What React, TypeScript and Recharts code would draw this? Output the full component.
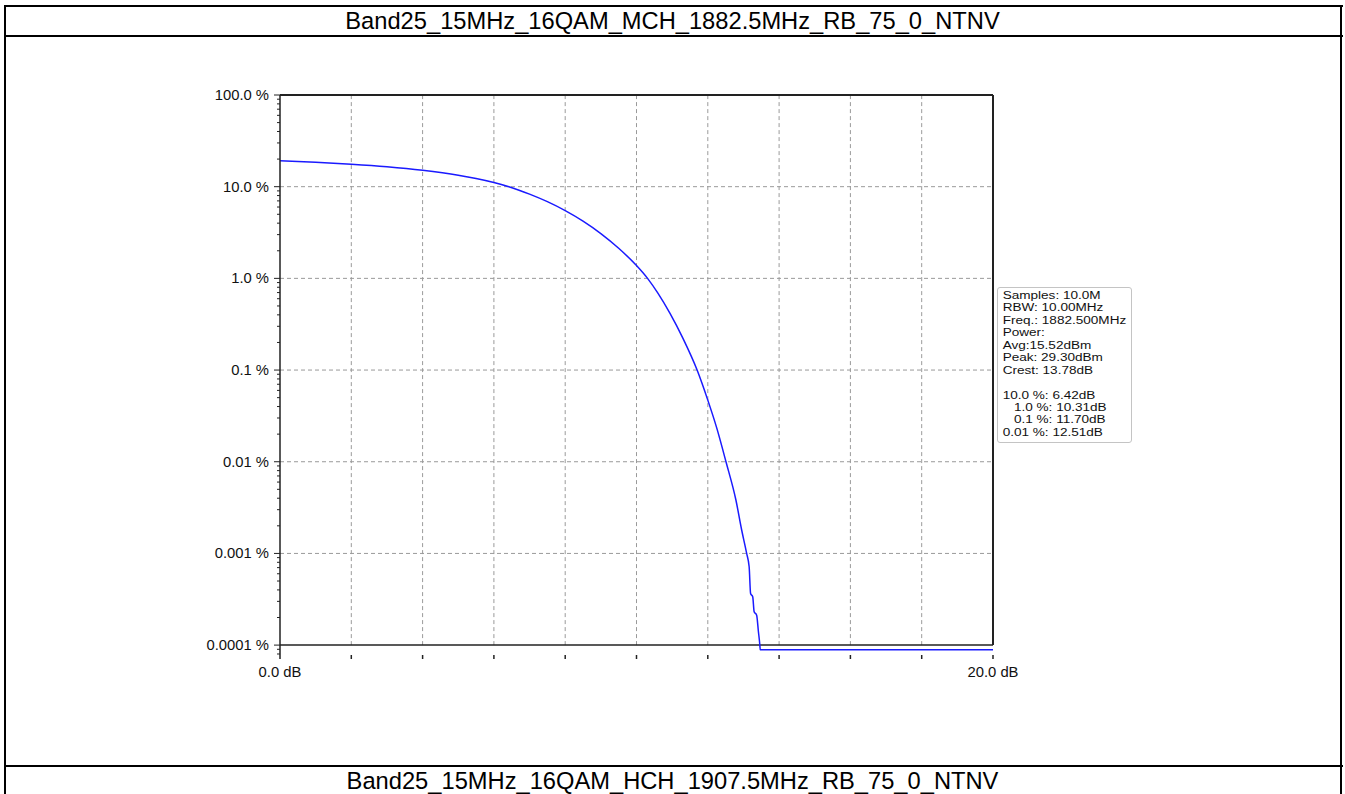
import { LineChart, Line, XAxis, YAxis, ReferenceLine } from "recharts";

// CCDF curve: power above average (dB) vs probability (%)
const dbValues = [
  0, 1, 2, 3, 4, 5, 5.5, 6, 6.42, 7, 7.5, 8, 8.5, 9, 9.5, 10, 10.31, 10.6,
  10.94, 11.3, 11.7, 12, 12.25, 12.51, 12.79, 12.95, 13.09, 13.16, 13.2,
  13.26, 13.3, 13.37, 13.42, 13.46, 13.47, 20,
];
const ccdfPercent = [
  19.2, 18.5, 17.6, 16.5, 15.1, 13.35, 12.3, 11.12, 10.0, 8.29, 6.86, 5.48,
  4.21, 3.08, 2.13, 1.38, 1.0, 0.69, 0.415, 0.223, 0.1, 0.047, 0.0234, 0.01,
  0.0038, 0.0018, 0.001, 0.000715, 0.000366, 0.000337, 0.000231, 0.000212,
  0.00014, 0.0001, 0.000089, 0.000089,
];

const xTicks = [0, 2, 4, 6, 8, 10, 12, 14, 16, 18, 20];
const xLabelTicks = [0, 20];
const xLabels = ["0.0 dB", "20.0 dB"];
const xGrid = [2, 4, 6, 8, 10, 12, 14, 16, 18];

const yMajor = [100, 10, 1, 0.1, 0.01, 0.001, 0.0001];
const yLabels = ["100.0 %", "10.0 %", "1.0 %", "0.1 %", "0.01 %", "0.001 %", "0.0001 %"];
const yGrid = [10, 1, 0.1, 0.01, 0.001];

const statsLines = [
  "Samples: 10.0M",
  "RBW: 10.00MHz",
  "Freq.: 1882.500MHz",
  "Power:",
  "Avg:15.52dBm",
  "Peak: 29.30dBm",
  "Crest: 13.78dB",
  "",
  "10.0 %: 6.42dB",
  "   1.0 %: 10.31dB",
  "   0.1 %: 11.70dB",
  "0.01 %: 12.51dB",
];

const title = "Band25_15MHz_16QAM_MCH_1882.5MHz_RB_75_0_NTNV";
const nextTitle = "Band25_15MHz_16QAM_HCH_1907.5MHz_RB_75_0_NTNV";

const Y_MIN = 0.000078;
const FONT = "'Liberation Sans', Arial, Helvetica, sans-serif";

const data = dbValues.map((db, i) => ({ db, pct: ccdfPercent[i] }));

// minor ticks 2..9 in each decade, inside the domain
const yTicks: number[] = [];
for (let e = -5; e <= 1; e++) {
  for (let k = 1; k <= 9; k++) {
    const v = k * Math.pow(10, e);
    if (v >= Y_MIN && v <= 100.0001) yTicks.push(v);
  }
}
yTicks.push(100);

function YTick(props: any) {
  const { x, y, payload } = props;
  const v = payload.value;
  const idx = yMajor.findIndex((m) => Math.abs(m - v) / m < 1e-6);
  const major = idx >= 0;
  return (
    <g>
      <line x1={x - (major ? 6 : 3)} x2={x} y1={y} y2={y} stroke="#222" strokeWidth={1} />
      {major && (
        <text x={x - 11} y={y} dy={5} textAnchor="end" fontSize={14.8} fill="#111" fontFamily={FONT}>
          {yLabels[idx]}
        </text>
      )}
    </g>
  );
}

function XTick(props: any) {
  const { x, y, payload } = props;
  const idx = xLabelTicks.indexOf(payload.value);
  return (
    <g>
      <line x1={x} x2={x} y1={y} y2={y + 4} stroke="#222" strokeWidth={1.5} />
      {idx >= 0 && (
        <text x={x} y={y + 22} textAnchor="middle" fontSize={14.8} fill="#111" fontFamily={FONT}>
          {xLabels[idx]}
        </text>
      )}
    </g>
  );
}

const hLine = (top: number) => (
  <div style={{ position: "absolute", left: 5, width: 1338, top, height: 2, background: "#000" }} />
);

export default function App() {
  return (
    <div
      style={{
        position: "absolute",
        left: 0,
        top: 0,
        width: 1345,
        height: 794,
        overflow: "hidden",
        background: "#fff",
        fontFamily: FONT,
      }}
    >
      {/* frame */}
      {hLine(5)}
      {hLine(35)}
      {hLine(765)}
      <div style={{ position: "absolute", left: 4, top: 5, width: 2, height: 800, background: "#000" }} />
      <div style={{ position: "absolute", left: 1340, top: 5, width: 2, height: 800, background: "#000" }} />

      <div
        style={{
          position: "absolute",
          left: 0,
          top: 6,
          width: 1345,
          height: 30,
          lineHeight: "30px",
          fontSize: 23.7,
          textAlign: "center",
          color: "#000",
        }}
      >
        {title}
      </div>
      <div
        style={{
          position: "absolute",
          left: 0,
          top: 766,
          width: 1345,
          height: 30,
          lineHeight: "30px",
          fontSize: 23.7,
          textAlign: "center",
          color: "#000",
        }}
      >
        {nextTitle}
      </div>

      <div style={{ position: "absolute", left: 0, top: 0 }}>
        <LineChart width={1345} height={794} data={data} margin={{ top: 95, right: 352, bottom: 109, left: 200 }}>
          <XAxis
            dataKey="db"
            type="number"
            domain={[0, 20]}
            ticks={xTicks}
            interval={0}
            axisLine={false}
            tickLine={false}
            tickSize={0}
            tickMargin={0}
            height={30}
            tick={<XTick />}
          />
          <YAxis
            type="number"
            scale="log"
            domain={[Y_MIN, 100]}
            allowDataOverflow
            ticks={yTicks}
            interval={0}
            width={80}
            axisLine={{ stroke: "#222", strokeWidth: 1.5 }}
            tickLine={false}
            tickSize={0}
            tickMargin={0}
            tick={<YTick />}
          />
          {yGrid.map((v) => (
            <ReferenceLine key={"gy" + v} y={v} stroke="#9a9a9a" strokeDasharray="4 3" ifOverflow="visible" />
          ))}
          {xGrid.map((v) => (
            <ReferenceLine
              key={"gx" + v}
              segment={[{ x: v, y: 0.0001 }, { x: v, y: 100 }]}
              stroke="#9a9a9a"
              strokeDasharray="4 3"
              ifOverflow="visible"
            />
          ))}
          <ReferenceLine segment={[{ x: 0, y: 100 }, { x: 20, y: 100 }]} stroke="#222" strokeWidth={2} ifOverflow="visible" />
          <ReferenceLine segment={[{ x: 20, y: 0.0001 }, { x: 20, y: 100 }]} stroke="#222" strokeWidth={2} ifOverflow="visible" />
          <ReferenceLine y={0.0001} stroke="#222" strokeWidth={1.5} ifOverflow="visible" />
          <Line
            type="monotone"
            dataKey="pct"
            stroke="#1a1aff"
            strokeWidth={1.5}
            dot={false}
            activeDot={false}
            isAnimationActive={false}
          />
        </LineChart>
      </div>

      {/* stats box */}
      <div
        style={{
          position: "absolute",
          left: 997,
          top: 287,
          width: 133,
          height: 154,
          border: "1px solid #c4c4c4",
          borderRadius: 3,
          background: "#fff",
        }}
      >
        <div
          style={{
            paddingTop: 1,
            paddingLeft: 4,
            fontSize: 11.7,
            color: "#111",
            transform: "scaleX(1.16)",
            transformOrigin: "left top",
            whiteSpace: "pre",
          }}
        >
          {statsLines.map((s, i) => (
            <div key={i} style={{ height: 12.45, lineHeight: "12.45px" }}>
              {s}
            </div>
          ))}
        </div>
      </div>
    </div>
  );
}
